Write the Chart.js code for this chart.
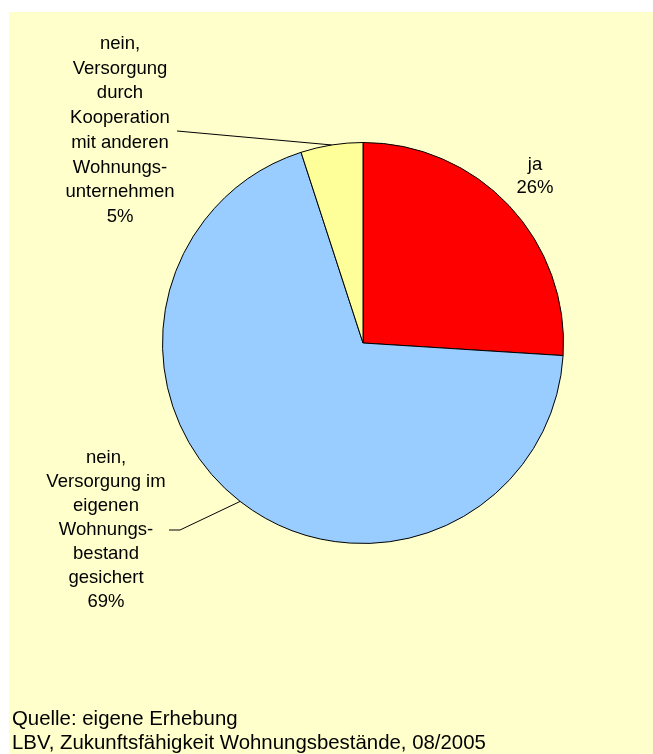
<!DOCTYPE html>
<html>
<head>
<meta charset="utf-8">
<script src="https://cdn.jsdelivr.net/npm/chart.js@4"></script>
<style>
  html, body { margin: 0; padding: 0; background: #ffffff; }
  #wrap { width: 653px; height: 754px; position: relative; }
</style>
</head>
<body>
<div id="wrap"><canvas id="pieChart" width="653" height="754"></canvas></div>
<script>
  // values
  var sliceNames = ["ja", "nein, Versorgung im eigenen Wohnungsbestand gesichert", "nein, Versorgung durch Kooperation mit anderen Wohnungsunternehmen"];
  var sliceValues = [26, 69, 5];
  var sliceColors = ["#FF0000", "#99CCFF", "#FFFF99"];

  // label text, line by line
  var labelLines = [
    ["ja", "26%"],
    ["nein,", "Versorgung im", "eigenen", "Wohnungs-", "bestand", "gesichert", "69%"],
    ["nein,", "Versorgung", "durch", "Kooperation", "mit anderen", "Wohnungs-", "unternehmen", "5%"]
  ];
  var footerLines = ["Quelle: eigene Erhebung", "LBV, Zukunftsfähigkeit Wohnungsbestände, 08/2005"];

  var FONT = '18.5px "Liberation Sans", Arial, sans-serif';
  var FOOTER_FONT = '20.4px "Liberation Sans", Arial, sans-serif';

  // where each label block sits, and where its leader line starts
  var labelSpots = [
    { x: 535, y: 165, step: 23, leader: null },
    { x: 106, y: 458, step: 24, leader: [[169, 530], [180, 530]] },
    { x: 120, y: 44, step: 24.7, leader: [[177, 131]] }
  ];

  var pageBackground = {
    id: 'pageBackground',
    beforeDraw: function(chart) {
      var c = chart.ctx;
      c.save();
      c.fillStyle = '#FFFFCC';
      c.fillRect(9, 12, chart.width - 9, chart.height - 12);
      c.restore();
    }
  };

  var pieLabels = {
    id: 'pieLabels',
    afterDraw: function(chart) {
      var c = chart.ctx;
      var arcs = chart.getDatasetMeta(0).data;
      c.save();
      c.strokeStyle = '#000000';
      c.lineWidth = 1;
      arcs.forEach(function(arc, i) {
        var spot = labelSpots[i];
        if (spot.leader) {
          var p = arc.getProps(['x', 'y', 'startAngle', 'endAngle', 'outerRadius'], true);
          var mid = (p.startAngle + p.endAngle) / 2;
          var ex = p.x + Math.cos(mid) * p.outerRadius;
          var ey = p.y + Math.sin(mid) * p.outerRadius;
          c.beginPath();
          c.moveTo(spot.leader[0][0], spot.leader[0][1]);
          for (var k = 1; k < spot.leader.length; k++) c.lineTo(spot.leader[k][0], spot.leader[k][1]);
          c.lineTo(ex, ey);
          c.stroke();
        }
        c.fillStyle = '#000000';
        c.font = FONT;
        c.textAlign = 'center';
        c.textBaseline = 'middle';
        labelLines[i].forEach(function(line, j) {
          c.fillText(line, spot.x, spot.y + j * spot.step);
        });
      });
      c.font = FOOTER_FONT;
      c.textAlign = 'left';
      c.textBaseline = 'middle';
      c.fillStyle = '#000000';
      footerLines.forEach(function(line, j) {
        c.fillText(line, 12, 719 + j * 24);
      });
      c.restore();
    }
  };

  var ctx = document.getElementById("pieChart").getContext('2d');

  var pieChart = new Chart(ctx, {
    type: 'pie',
    data: {
      labels: sliceNames,
      datasets: [{
        data: sliceValues,
        backgroundColor: sliceColors,
        borderColor: '#000000',
        borderWidth: 1
      }]
    },
    options: {
      responsive: false,
      animation: false,
      layout: { padding: { left: 162, right: 89, top: 141, bottom: 209 } },
      plugins: {
        legend: { display: false },
        tooltip: { enabled: false }
      }
    },
    plugins: [pageBackground, pieLabels]
  });
</script>
</body>
</html>
